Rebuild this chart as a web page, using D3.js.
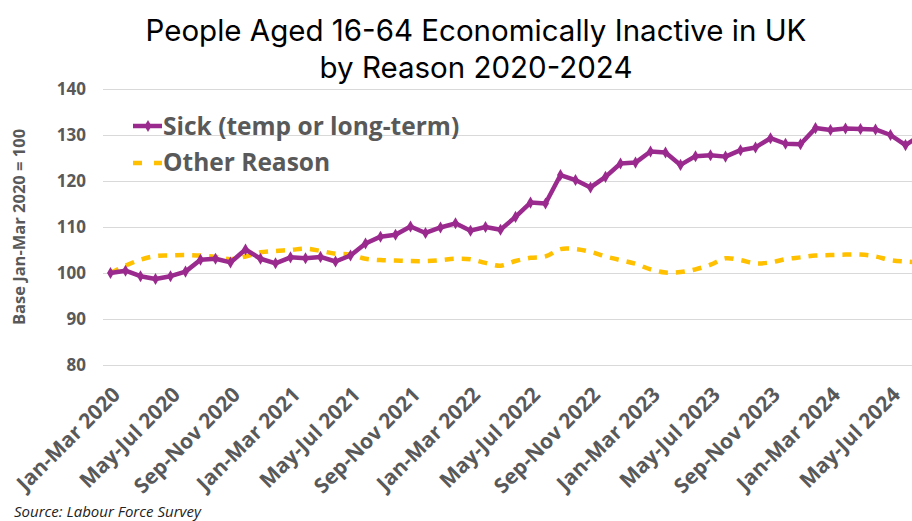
<!DOCTYPE html>
<html>
<head>
<meta charset="utf-8">
<script src="https://cdn.jsdelivr.net/npm/d3@7"></script>
<style>
  html, body { margin: 0; padding: 0; background: #fff; }
  svg { display: block; }
</style>
</head>
<body>
<svg id="chart" width="912" height="521"></svg>
<script>
// Rolling three-month periods, Jan-Mar 2020 onwards
const months = ["Jan","Feb","Mar","Apr","May","Jun","Jul","Aug","Sep","Oct","Nov","Dec"];
const periods = [];
for (let i = 0; i < 55; i++) {
  const s = i % 12, e = (i + 2) % 12;
  const yr = 2020 + Math.floor((i + 2) / 12);
  periods.push(months[s] + "-" + months[e] + " " + yr);
}

// Index values, base Jan-Mar 2020 = 100
const sickValues = [
  100.0, 100.5, 99.3, 98.7, 99.3, 100.3, 102.9, 103.1, 102.3, 105.1,
  103.1, 102.1, 103.4, 103.2, 103.5, 102.5, 103.8, 106.4, 107.9, 108.3,
  110.1, 108.7, 109.9, 110.8, 109.2, 110.0, 109.4, 112.2, 115.3, 115.1,
  121.3, 120.2, 118.6, 120.9, 123.8, 124.0, 126.4, 126.2, 123.5, 125.4,
  125.6, 125.3, 126.7, 127.3, 129.3, 128.1, 128.0, 131.5, 131.1, 131.4,
  131.3, 131.2, 130.0, 127.8, 129.9
];
const otherValues = [
  100.0, 101.6, 102.9, 103.7, 103.8, 103.9, 103.8, 103.5, 103.0, 103.6,
  104.5, 104.8, 105.0, 105.3, 104.8, 104.2, 104.0, 103.1, 102.8, 102.7,
  102.6, 102.6, 102.8, 103.1, 103.0, 102.2, 101.6, 102.6, 103.3, 103.6,
  105.2, 105.2, 104.6, 103.6, 102.8, 102.0, 100.8, 100.1, 100.2, 100.8,
  101.8, 103.2, 102.8, 102.1, 102.3, 103.0, 103.4, 103.8, 103.9, 104.0,
  104.0, 103.6, 102.8, 102.5, 102.3
];
const yTicks = [80, 90, 100, 110, 120, 130, 140];
const titleLines = ["People Aged 16-64 Economically Inactive in UK", "by Reason 2020-2024"];
const seriesNames = ["Sick (temp or long-term)", "Other Reason"];
const yAxisTitle = "Base Jan-Mar 2020 = 100";
const sourceNote = "Source: Labour Force Survey";

const sickColor = "#9B2A8E";
const otherColor = "#FFC000";
const textGray = "#595959";
const gridColor = "#D9D9D9";
const fontFamily = "'Open Sans', 'Liberation Sans', sans-serif";
const titleFont = "Inter, 'Open Sans', sans-serif";

const svg = d3.select("#chart");

const plotLeft = 103, bandWidth = 15;
const x = d3.scaleBand()
  .domain(periods)
  .range([plotLeft, plotLeft + bandWidth * periods.length])
  .paddingInner(0).paddingOuter(0);
const xc = d => x(d) + x.bandwidth() / 2;

const y = d3.scaleLinear().domain([80, 140]).range([365, 89]);

// Two-line title
svg.append("g").selectAll("text")
  .data(titleLines)
  .join("text")
  .attr("x", 476)
  .attr("y", (d, i) => 41 + i * 37)
  .attr("text-anchor", "middle")
  .attr("font-family", titleFont)
  .attr("font-size", 29.5)
  .attr("fill", "#000")
  .text(d => d);

// Horizontal gridlines via the y axis
const yAxis = d3.axisLeft(y).tickValues(yTicks).tickSize(-(912 - plotLeft + 20)).tickPadding(17);
const gy = svg.append("g")
  .attr("transform", `translate(${plotLeft},0)`)
  .call(yAxis);
gy.select(".domain").remove();
gy.selectAll(".tick line").attr("stroke", gridColor).attr("stroke-width", 1.2);
gy.selectAll(".tick text")
  .attr("font-family", fontFamily)
  .attr("font-size", 17)
  .attr("font-weight", "bold")
  .attr("fill", textGray);

// Y axis title
svg.append("text")
  .attr("transform", "translate(25,227) rotate(-90)")
  .attr("text-anchor", "middle")
  .attr("font-family", fontFamily)
  .attr("font-size", 16.5)
  .attr("font-weight", "bold")
  .attr("fill", textGray)
  .text(yAxisTitle);

// X axis labels every fourth period
const xTickValues = periods.filter((d, i) => i % 4 === 0 && i <= 52);
const xAxis = d3.axisBottom(x).tickValues(xTickValues).tickSize(0).tickPadding(0);
const gx = svg.append("g")
  .attr("transform", "translate(0,365)")
  .call(xAxis);
gx.select(".domain").remove();
gx.selectAll(".tick text")
  .attr("font-family", fontFamily)
  .attr("font-size", 21)
  .attr("font-weight", "bold")
  .attr("fill", textGray)
  .attr("text-anchor", "end")
  .attr("dy", null)
  .attr("transform", "translate(11,31) rotate(-45)");

// Series lines
const sickLine = d3.line()
  .x((d, i) => xc(periods[i]))
  .y(d => y(d));
const otherLine = d3.line()
  .x((d, i) => xc(periods[i]))
  .y(d => y(d))
  .curve(d3.curveCatmullRom.alpha(0.5));

svg.append("path")
  .datum(otherValues)
  .attr("d", otherLine)
  .attr("fill", "none")
  .attr("stroke", otherColor)
  .attr("stroke-width", 4.5)
  .attr("stroke-dasharray", "9,8");

svg.append("path")
  .datum(sickValues)
  .attr("d", sickLine)
  .attr("fill", "none")
  .attr("stroke", sickColor)
  .attr("stroke-width", 4.5)
  .attr("stroke-linejoin", "round");

const diamond = d3.symbol().type(d3.symbolDiamond).size(42);
svg.append("g").selectAll("path")
  .data(sickValues)
  .join("path")
  .attr("transform", (d, i) => `translate(${xc(periods[i])},${y(d)})`)
  .attr("d", diamond)
  .attr("fill", sickColor);

// Legend
const legend = svg.append("g");
legend.append("line")
  .attr("x1", 133).attr("x2", 162).attr("y1", 126).attr("y2", 126)
  .attr("stroke", sickColor).attr("stroke-width", 4.5);
legend.append("path")
  .attr("transform", "translate(148,126)")
  .attr("d", diamond)
  .attr("fill", sickColor);
legend.append("line")
  .attr("x1", 133).attr("x2", 162).attr("y1", 163).attr("y2", 163)
  .attr("stroke", otherColor).attr("stroke-width", 4.5)
  .attr("stroke-dasharray", "9,12");
legend.selectAll("text")
  .data(seriesNames)
  .join("text")
  .attr("x", 163)
  .attr("y", (d, i) => 134.5 + i * 36.5)
  .attr("font-family", fontFamily)
  .attr("font-size", 24.5)
  .attr("font-weight", "bold")
  .attr("fill", textGray)
  .text(d => d);

// Source note
svg.append("text")
  .attr("x", 14)
  .attr("y", 517)
  .attr("font-family", fontFamily)
  .attr("font-size", 15)
  .attr("font-style", "italic")
  .attr("fill", "#222")
  .text(sourceNote);
</script>
</body>
</html>
